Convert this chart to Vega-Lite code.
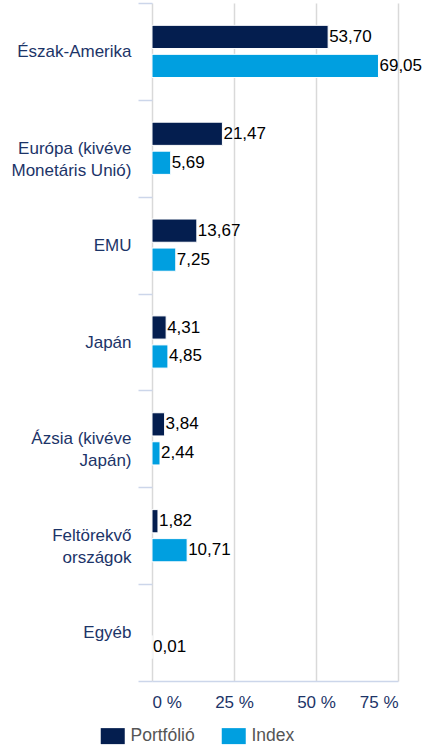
{
  "$schema": "https://vega.github.io/schema/vega-lite/v6.json",
  "autosize": {"type": "none"},
  "width": 246,
  "height": 678,
  "padding": {"left": 152, "top": 3, "right": 24, "bottom": 64},
  "config": {
    "view": {"stroke": null},
    "font": "Liberation Sans",
    "locale": {"number": {"decimal": ",", "thousands": " ", "grouping": [3], "currency": ["", ""]}}
  },
  "data": {
    "values": [
      {"region": "Észak-Amerika", "series": "Portfólió", "value": 53.70},
      {"region": "Észak-Amerika", "series": "Index", "value": 69.05},
      {"region": "Európa (kivéve Monetáris Unió)", "series": "Portfólió", "value": 21.47},
      {"region": "Európa (kivéve Monetáris Unió)", "series": "Index", "value": 5.69},
      {"region": "EMU", "series": "Portfólió", "value": 13.67},
      {"region": "EMU", "series": "Index", "value": 7.25},
      {"region": "Japán", "series": "Portfólió", "value": 4.31},
      {"region": "Japán", "series": "Index", "value": 4.85},
      {"region": "Ázsia (kivéve Japán)", "series": "Portfólió", "value": 3.84},
      {"region": "Ázsia (kivéve Japán)", "series": "Index", "value": 2.44},
      {"region": "Feltörekvő országok", "series": "Portfólió", "value": 1.82},
      {"region": "Feltörekvő országok", "series": "Index", "value": 10.71},
      {"region": "Egyéb", "series": "Index", "value": 0.01}
    ]
  },
  "encoding": {
    "y": {
      "field": "region",
      "type": "nominal",
      "sort": null,
      "scale": {"paddingInner": 0, "paddingOuter": 0},
      "axis": {
        "title": null,
        "domain": false,
        "tickBand": "extent",
        "tickSize": 14,
        "tickColor": "#ccd6ea",
        "tickWidth": 1.5,
        "labelPadding": 7,
        "labelFontSize": 17,
        "labelColor": "#1c3468",
        "labelLineHeight": 22,
        "labelLimit": 200,
        "labelExpr": "datum.label == 'Európa (kivéve Monetáris Unió)' ? ['Európa (kivéve', 'Monetáris Unió)'] : datum.label == 'Ázsia (kivéve Japán)' ? ['Ázsia (kivéve', 'Japán)'] : datum.label == 'Feltörekvő országok' ? ['Feltörekvő', 'országok'] : datum.label"
      }
    },
    "yOffset": {
      "field": "series",
      "type": "nominal",
      "sort": ["Portfólió", "Index"],
      "scale": {"domain": ["Portfólió", "Index"], "paddingInner": 0.2, "paddingOuter": 0.77}
    },
    "x": {
      "field": "value",
      "type": "quantitative",
      "scale": {"domain": [0, 75], "nice": false},
      "axis": {
        "title": null,
        "values": [0, 25, 50, 75],
        "labelExpr": "datum.value + ' %'",
        "labelFontSize": 17,
        "labelColor": "#1c3468",
        "labelPadding": 13,
        "ticks": false,
        "domainColor": "#ccd6ea",
        "domainWidth": 1.5,
        "gridColor": "#d9d9d9",
        "gridWidth": 1.5
      }
    }
  },
  "layer": [
    {
      "mark": {"type": "bar", "stroke": "#ffffff", "strokeWidth": 1},
      "encoding": {
        "color": {
          "field": "series",
          "type": "nominal",
          "scale": {"domain": ["Portfólió", "Index"], "range": ["#041e4f", "#009fe0"]},
          "legend": {
            "title": null,
            "orient": "none",
            "direction": "horizontal",
            "legendX": -48,
            "legendY": 724,
            "symbolType": "M-1.5,-1H1.5V1H-1.5Z",
            "symbolSize": 256,
            "symbolStrokeWidth": 0,
            "labelFontSize": 17.5,
            "labelColor": "#555555",
            "columnPadding": 26,
            "labelOffset": 9
          }
        }
      }
    },
    {
      "mark": {"type": "text", "align": "left", "baseline": "middle", "dx": 1, "fontSize": 17, "color": "#000000"},
      "encoding": {
        "text": {"field": "value", "type": "quantitative", "format": ".2f"}
      }
    }
  ]
}
